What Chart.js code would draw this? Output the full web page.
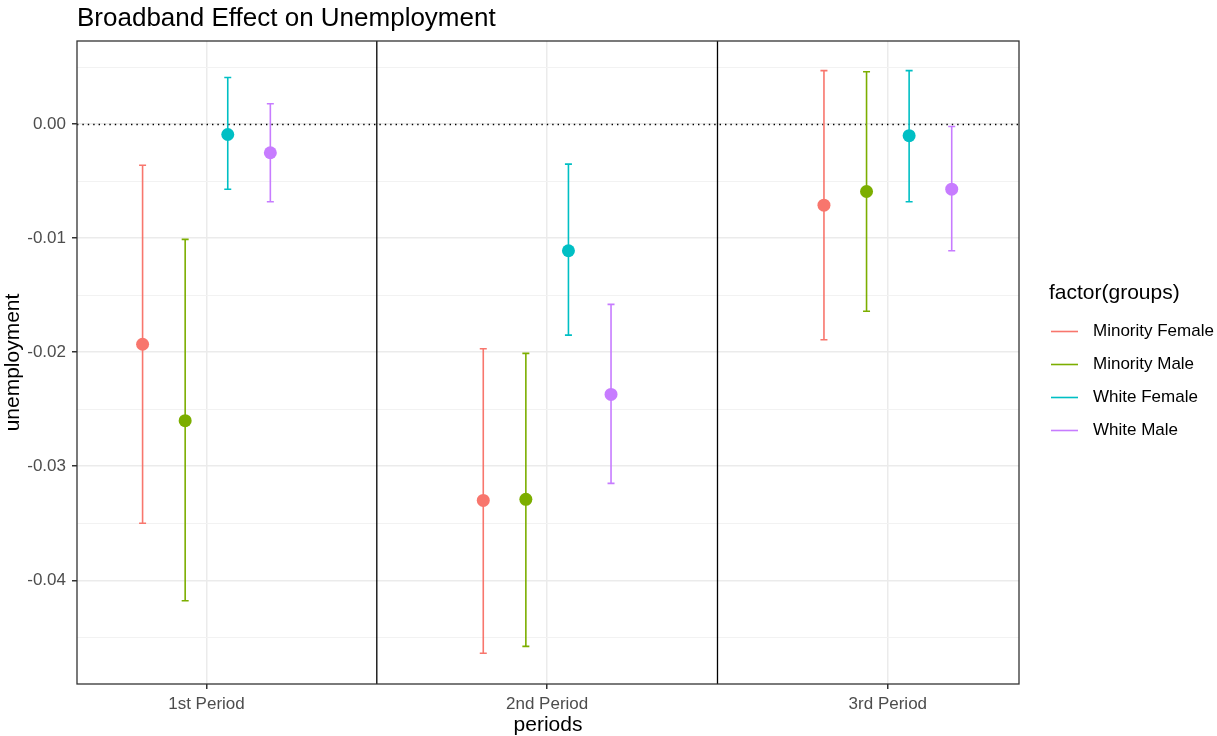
<!DOCTYPE html>
<html>
<head>
<meta charset="utf-8">
<title>Broadband Effect on Unemployment</title>
<script src="https://cdn.jsdelivr.net/npm/chart.js@4.4.0/dist/chart.umd.min.js"></script>
<style>
    html, body { margin: 0; padding: 0; background: #ffffff; }
    canvas { display: block; }
</style>
</head>
<body>
<canvas id="chart" width="1217" height="736"></canvas>
<script>
// categories and groups
const periods = ["1st Period", "2nd Period", "3rd Period"];
const groups = ["Minority Female", "Minority Male", "White Female", "White Male"];
const groupColors = ["#F8766D", "#7CAE00", "#00BFC4", "#C77CFF"];

// one row per group, one column per period
const estimates = [
    [-0.0193, -0.0330, -0.0071],
    [-0.0260, -0.0329, -0.0059],
    [-0.0009, -0.0111, -0.0010],
    [-0.0025, -0.0237, -0.0057],
];
const lowerCI = [
    [-0.0350, -0.0464, -0.0189],
    [-0.0418, -0.0458, -0.0164],
    [-0.0057, -0.0185, -0.0068],
    [-0.0068, -0.0315, -0.0111],
];
const upperCI = [
    [-0.0036, -0.0197, 0.0047],
    [-0.0101, -0.0201, 0.0046],
    [0.0041, -0.0035, 0.0047],
    [0.0018, -0.0158, -0.0002],
];

// y ticks: labelled majors and unlabelled minors
const yMajorTicks = [0, -0.01, -0.02, -0.03, -0.04];
const yMinorTicks = [0.005, -0.005, -0.015, -0.025, -0.035, -0.045];
const yMin = -0.0491;
const yMax = 0.0073;
const xMin = -0.38;
const xMax = 2.385;
const zeroLine = 0;

const FONT = "'Liberation Sans', Arial, sans-serif";
const dodgeWidth = 0.5;

const isMajor = (v) => yMajorTicks.some((t) => Math.abs(t - v) < 1e-9);

const datasets = groups.map((name, g) => {
    const offset = (g - (groups.length - 1) / 2) * (dodgeWidth / groups.length);
    return {
        label: name,
        data: periods.map((p, i) => ({
            x: i + offset,
            y: estimates[g][i],
            lo: lowerCI[g][i],
            hi: upperCI[g][i],
        })),
        backgroundColor: groupColors[g],
        borderWidth: 0,
        pointRadius: 6.5,
        pointHoverRadius: 6.5,
    };
});

// error bars, reference lines, panel border, titles and legend
const ggDecor = {
    id: "ggDecor",
    beforeDatasetsDraw(chart) {
        const { ctx, chartArea: a, scales } = chart;
        const xs = scales.x;
        const ys = scales.y;
        ctx.save();

        // dotted line at zero
        const y0 = Math.round(ys.getPixelForValue(zeroLine)) + 0.5;
        ctx.strokeStyle = "#000000";
        ctx.lineWidth = 1.3;
        ctx.setLineDash([1.4, 4]);
        ctx.beginPath();
        ctx.moveTo(a.left, y0);
        ctx.lineTo(a.right, y0);
        ctx.stroke();
        ctx.setLineDash([]);

        // solid separators between periods
        ctx.lineWidth = 1.3;
        for (let i = 0; i < periods.length - 1; i++) {
            const px = xs.getPixelForValue(i + 0.5);
            ctx.beginPath();
            ctx.moveTo(px, a.top);
            ctx.lineTo(px, a.bottom);
            ctx.stroke();
        }

        // error bars
        chart.data.datasets.forEach((ds, di) => {
            const meta = chart.getDatasetMeta(di);
            ctx.strokeStyle = ds.backgroundColor;
            ctx.lineWidth = 1.6;
            meta.data.forEach((pt, i) => {
                const raw = ds.data[i];
                const yl = ys.getPixelForValue(raw.lo);
                const yh = ys.getPixelForValue(raw.hi);
                ctx.beginPath();
                ctx.moveTo(pt.x, yl);
                ctx.lineTo(pt.x, yh);
                ctx.moveTo(pt.x - 3.5, yl);
                ctx.lineTo(pt.x + 3.5, yl);
                ctx.moveTo(pt.x - 3.5, yh);
                ctx.lineTo(pt.x + 3.5, yh);
                ctx.stroke();
            });
        });
        ctx.restore();
    },
    afterDraw(chart) {
        const { ctx, chartArea: a } = chart;
        ctx.save();

        // panel border
        ctx.strokeStyle = "#333333";
        ctx.lineWidth = 1.3;
        ctx.strokeRect(a.left, a.top, a.right - a.left, a.bottom - a.top);

        // title
        ctx.fillStyle = "#000000";
        ctx.textAlign = "left";
        ctx.textBaseline = "alphabetic";
        ctx.font = `26px ${FONT}`;
        ctx.fillText("Broadband Effect on Unemployment", 77, 26);

        // axis titles
        ctx.font = `21px ${FONT}`;
        ctx.textAlign = "center";
        ctx.textBaseline = "middle";
        ctx.fillText("periods", (a.left + a.right) / 2, 725);
        ctx.save();
        ctx.translate(13, (a.top + a.bottom) / 2);
        ctx.rotate(-Math.PI / 2);
        ctx.fillText("unemployment", 0, 0);
        ctx.restore();

        // legend
        ctx.textAlign = "left";
        ctx.fillText("factor(groups)", 1049, 293);
        ctx.font = `17px ${FONT}`;
        groups.forEach((name, g) => {
            const y = 331 + g * 33;
            ctx.strokeStyle = groupColors[g];
            ctx.lineWidth = 1.6;
            ctx.beginPath();
            ctx.moveTo(1051, y + 0.5);
            ctx.lineTo(1078, y + 0.5);
            ctx.stroke();
            ctx.fillStyle = "#000000";
            ctx.fillText(name, 1093, y);
        });
        ctx.restore();
    },
};

new Chart(document.getElementById("chart"), {
    type: "scatter",
    data: { datasets },
    options: {
        responsive: false,
        animation: false,
        events: [],
        devicePixelRatio: 1,
        layout: { padding: { top: 41, right: 198, left: 0, bottom: 0 } },
        plugins: {
            legend: { display: false },
            title: { display: false },
            tooltip: { enabled: false },
        },
        scales: {
            x: {
                type: "linear",
                min: xMin,
                max: xMax,
                afterBuildTicks: (axis) => {
                    axis.ticks = periods.map((p, i) => ({ value: i }));
                },
                afterFit: (axis) => {
                    axis.height = 52;
                },
                ticks: {
                    autoSkip: false,
                    maxRotation: 0,
                    padding: 5,
                    color: "#4D4D4D",
                    font: { family: FONT, size: 17 },
                    callback: (v) => periods[Math.round(v)],
                },
                grid: {
                    color: "#EBEBEB",
                    lineWidth: 1.5,
                    tickColor: "#333333",
                    tickLength: 5,
                },
                border: { display: false },
            },
            y: {
                type: "linear",
                min: yMin,
                max: yMax,
                afterBuildTicks: (axis) => {
                    axis.ticks = yMajorTicks.concat(yMinorTicks)
                        .sort((p, q) => p - q)
                        .map((v) => ({ value: v }));
                },
                afterFit: (axis) => {
                    axis.width = 77;
                },
                ticks: {
                    autoSkip: false,
                    padding: 6,
                    color: "#4D4D4D",
                    font: { family: FONT, size: 17 },
                    callback: (v) => (isMajor(v) ? v.toFixed(2) : ""),
                },
                grid: {
                    color: (c) => (c.tick && isMajor(c.tick.value) ? "#EBEBEB" : "#F2F2F2"),
                    lineWidth: (c) => (c.tick && isMajor(c.tick.value) ? 1.5 : 1),
                    tickColor: (c) => (c.tick && isMajor(c.tick.value) ? "#333333" : "rgba(0,0,0,0)"),
                    tickLength: 5,
                },
                border: { display: false },
            },
        },
    },
    plugins: [ggDecor],
});
</script>
</body>
</html>
